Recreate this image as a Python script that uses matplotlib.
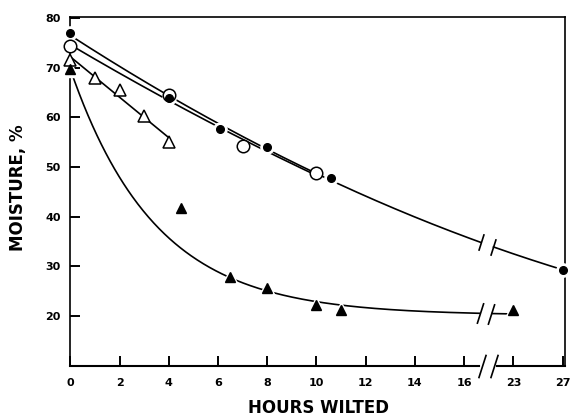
import numpy as np
import matplotlib
matplotlib.use("Agg")
import matplotlib.pyplot as plt

# ---------------- data ----------------
x_ticks = [0, 2, 4, 6, 8, 10, 12, 14, 16, 23, 27]
y_ticks = [20, 30, 40, 50, 60, 70, 80]

fc_hours = [0, 4, 6.1, 8, 10.6, 27]          # filled circles
fc_moist = [76.9, 63.9, 57.7, 54.1, 47.8, 29.2]

oc_hours = [0, 4, 7, 10]                      # open circles
oc_moist = [74.3, 64.6, 54.2, 48.8]

ot_hours = [0, 1, 2, 3, 4]                    # open triangles
ot_moist = [71.5, 68.0, 65.5, 60.3, 55.0]

ft_hours = [0, 4.5, 6.5, 8, 10, 11, 23]       # filled triangles
ft_moist = [69.7, 41.8, 27.9, 25.7, 22.3, 21.2, 21.2]
ft_on_curve = [True, False, True, True, True, True, True]   # 4.5 h point lies off the drawn curve


# ---------------- broken x scale ----------------
def fwd(h):
    h = np.asarray(h, dtype=float)
    return np.where(h <= 16, h, np.where(h < 23, 16 + (h - 16) * 2 / 7, 18 + (h - 23) / 2))


def inv(d):
    d = np.asarray(d, dtype=float)
    return np.where(d <= 16, d, np.where(d < 18, 16 + (d - 16) * 3.5, 23 + (d - 18) * 2))


plt.rcParams["font.family"] = ["DejaVu Sans"]
fig = plt.figure(figsize=(5.71, 4.18), dpi=100)
ax = fig.add_axes([0.1231, 0.1251, 0.8664, 0.8342])
ax.set_xscale("function", functions=(fwd, inv))
ax.set_xlim(0, float(inv(20.1)))
ax.set_ylim(10, 80.2)

LW = 1.2
GAP1, GAP2 = 16.68, 17.18   # break position (display units)

# ---------- fitted curves (in display coordinates) ----------
# filled circles: quadratic
d = fwd(fc_hours)
p = np.polyfit(d, fc_moist, 2)
dd = np.linspace(0, d[-1], 500)
yy = np.polyval(p, dd)
yy[(dd > GAP1) & (dd < GAP2)] = np.nan
ax.plot(inv(dd), yy, color="black", lw=LW, zorder=2, clip_on=False)
slash_fc = np.polyval(p, np.array([GAP1, GAP2]))

# open circles: quadratic
d = fwd(oc_hours)
p = np.polyfit(d, oc_moist, 2)
dd = np.linspace(0, d[-1], 300)
ax.plot(inv(dd), np.polyval(p, dd), color="black", lw=LW, zorder=2)

# open triangles: linear
d = fwd(ot_hours)
p = np.polyfit(d, ot_moist, 1)
dd = np.linspace(0, d[-1], 50)
ax.plot(inv(dd), np.polyval(p, dd), color="black", lw=LW, zorder=2)

# filled triangles: exponential decay to a plateau
m = np.asarray(ft_on_curve)
d_all = fwd(ft_hours)
d = d_all[m]
v = np.asarray(ft_moist)[m]
best = None
for k in np.linspace(0.05, 1.5, 2000):
    A = np.column_stack([np.ones_like(d), np.exp(-k * d)])
    coef, *_ = np.linalg.lstsq(A, v, rcond=None)
    sse = np.sum((A @ coef - v) ** 2)
    if best is None or sse < best[0]:
        best = (sse, k, coef)
_, k, coef = best
dd = np.linspace(0, d_all[-1], 500)
yy = coef[0] + coef[1] * np.exp(-k * dd)
yy[(dd > GAP1 - 0.03) & (dd < GAP2 - 0.08)] = np.nan
ax.plot(inv(dd), yy, color="black", lw=LW, zorder=2)
slash_ft = coef[0] + coef[1] * np.exp(-k * np.array([GAP1 - 0.03, GAP2 - 0.08]))

# ---------- markers ----------
# white halos under filled markers
ax.plot(fc_hours, fc_moist, "o", ms=9.5, color="white", zorder=3, clip_on=False)
ax.plot(ft_hours, ft_moist, "^", ms=11, color="white", zorder=3, clip_on=False)

ax.plot(fc_hours, fc_moist, "o", ms=5.5, color="black", zorder=5, clip_on=False)
ax.plot(oc_hours, oc_moist, "o", ms=9, mfc="white", mec="black", mew=1.1,
        zorder=4, clip_on=False)
ax.plot(ot_hours, ot_moist, "^", ms=9, mfc="white", mec="black", mew=1.1,
        zorder=4, clip_on=False)
ax.plot(ft_hours, ft_moist, "^", ms=7, color="black", zorder=5, clip_on=False)

# ---------- break marks ----------
slash = [(-0.32, -1), (0.32, 1)]
ax.plot(inv([GAP1, GAP2]), slash_fc, ls="none", marker=slash, ms=12,
        mfc="none", mec="black", mew=1.2, zorder=6)
ax.plot(inv([GAP1 - 0.03, GAP2 - 0.08]), slash_ft, ls="none", marker=slash, ms=15,
        mfc="none", mec="black", mew=1.2, zorder=6)
ax.plot(inv([16.72, 17.2]), [10, 10], ls="none", marker=slash, ms=17,
        mfc="none", mec="black", mew=1.2, zorder=6, clip_on=False)

# ---------- frame ----------
ax.spines["bottom"].set_visible(False)
for s in ["left", "top", "right"]:
    ax.spines[s].set_linewidth(1.2)
ax.plot([0, float(inv(16.6))], [10, 10], color="black", lw=1.5, clip_on=False, zorder=6)
ax.plot([float(inv(17.33)), float(inv(20.1))], [10, 10], color="black", lw=1.5,
        clip_on=False, zorder=6)

ax.set_xticks(x_ticks)
ax.set_xticklabels([str(v) for v in x_ticks])
ax.set_yticks(y_ticks)
ax.set_yticklabels([str(v) for v in y_ticks])
ax.minorticks_off()
ax.tick_params(axis="both", direction="in", length=7, width=1.4,
               labelsize=8, top=False, right=False)
ax.tick_params(axis="y", pad=7)
ax.tick_params(axis="x", pad=9)
for lab in ax.get_xticklabels() + ax.get_yticklabels():
    lab.set_fontweight("bold")

fig.text(318 / 571, 1 - 408 / 418, "HOURS WILTED", ha="center", va="center",
         fontsize=12, fontweight="bold")
fig.text(18 / 571, 1 - 188 / 418, "MOISTURE, %", ha="center", va="center",
         rotation=90, fontsize=12, fontweight="bold")

fig.savefig("out.png", dpi=100)
